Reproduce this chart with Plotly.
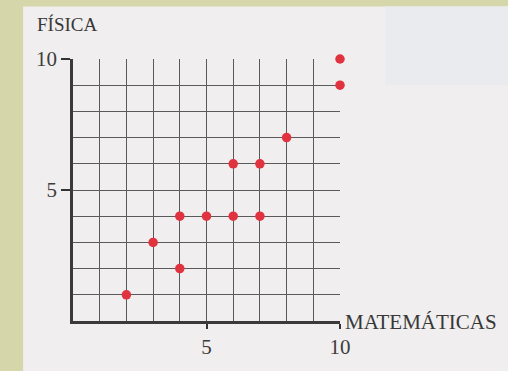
import plotly.graph_objects as go

# scores of each student
matematicas = [2, 3, 4, 4, 5, 6, 7, 6, 7, 8, 10, 10]
fisica = [1, 3, 2, 4, 4, 4, 4, 6, 6, 7, 10, 9]

tick_vals = [5, 10]
tick_text = ["5", "10"]

PAPER = "#f0eeee"
GREEN = "#d5d6a9"
GRID = "#5a5a5a"
SERIF = "Liberation Serif, DejaVu Serif, serif"

fig = go.Figure(go.Scatter(
    x=matematicas,
    y=fisica,
    mode="markers",
    marker=dict(size=9.5, color="#e0323f", line=dict(width=0)),
    cliponaxis=False,
    hoverinfo="x+y",
))

axis_common = dict(
    range=[0, 10],
    tickvals=tick_vals,
    ticktext=tick_text,
    ticks="outside",
    tickcolor="#333333",
    tickwidth=1.5,
    showgrid=True,
    gridcolor=GRID,
    gridwidth=1.4,
    minor=dict(dtick=1, showgrid=True, gridcolor=GRID, gridwidth=1.4, ticks=""),
    showline=True,
    linecolor="#3a3a3a",
    linewidth=2.5,
    zeroline=False,
    tickfont=dict(family=SERIF, size=21, color="#3c3c3c"),
    fixedrange=True,
)

fig.update_xaxes(**axis_common, ticklen=5)
fig.update_yaxes(**axis_common, ticklen=9)

fig.update_layout(
    width=508,
    height=371,
    autosize=False,
    margin=dict(l=73, r=168, t=59, b=45),
    paper_bgcolor=PAPER,
    plot_bgcolor=PAPER,
    showlegend=False,
    shapes=[
        # green strip on the left and the top (scan border)
        dict(type="rect", xref="paper", yref="paper", x0=-0.3, x1=-0.187,
             y0=-0.2, y1=1.25, fillcolor=GREEN, line=dict(width=0), layer="below"),
        dict(type="rect", xref="paper", yref="paper", x0=-0.3, x1=1.7,
             y0=1.2, y1=1.25, fillcolor=GREEN, line=dict(width=0), layer="below"),
        # faded block top right
        dict(type="rect", xref="paper", yref="paper", x0=1.17, x1=1.7,
             y0=0.9, y1=1.2, fillcolor="#e9ebee", line=dict(width=0), layer="below"),
    ],
    annotations=[
        dict(text="FÍSICA", x=-0.142, y=1.131, xref="paper", yref="paper",
             xanchor="left", yanchor="middle", showarrow=False,
             font=dict(family=SERIF, size=19, color="#383838")),
        dict(text="MATEMÁTICAS", x=1.012, y=-0.004, xref="paper", yref="paper",
             xanchor="left", yanchor="middle", showarrow=False,
             font=dict(family=SERIF, size=21, color="#383838")),
    ],
)

fig.write_html("out.html", config={"displayModeBar": False},
               post_script="document.body.style.margin='0px';")
